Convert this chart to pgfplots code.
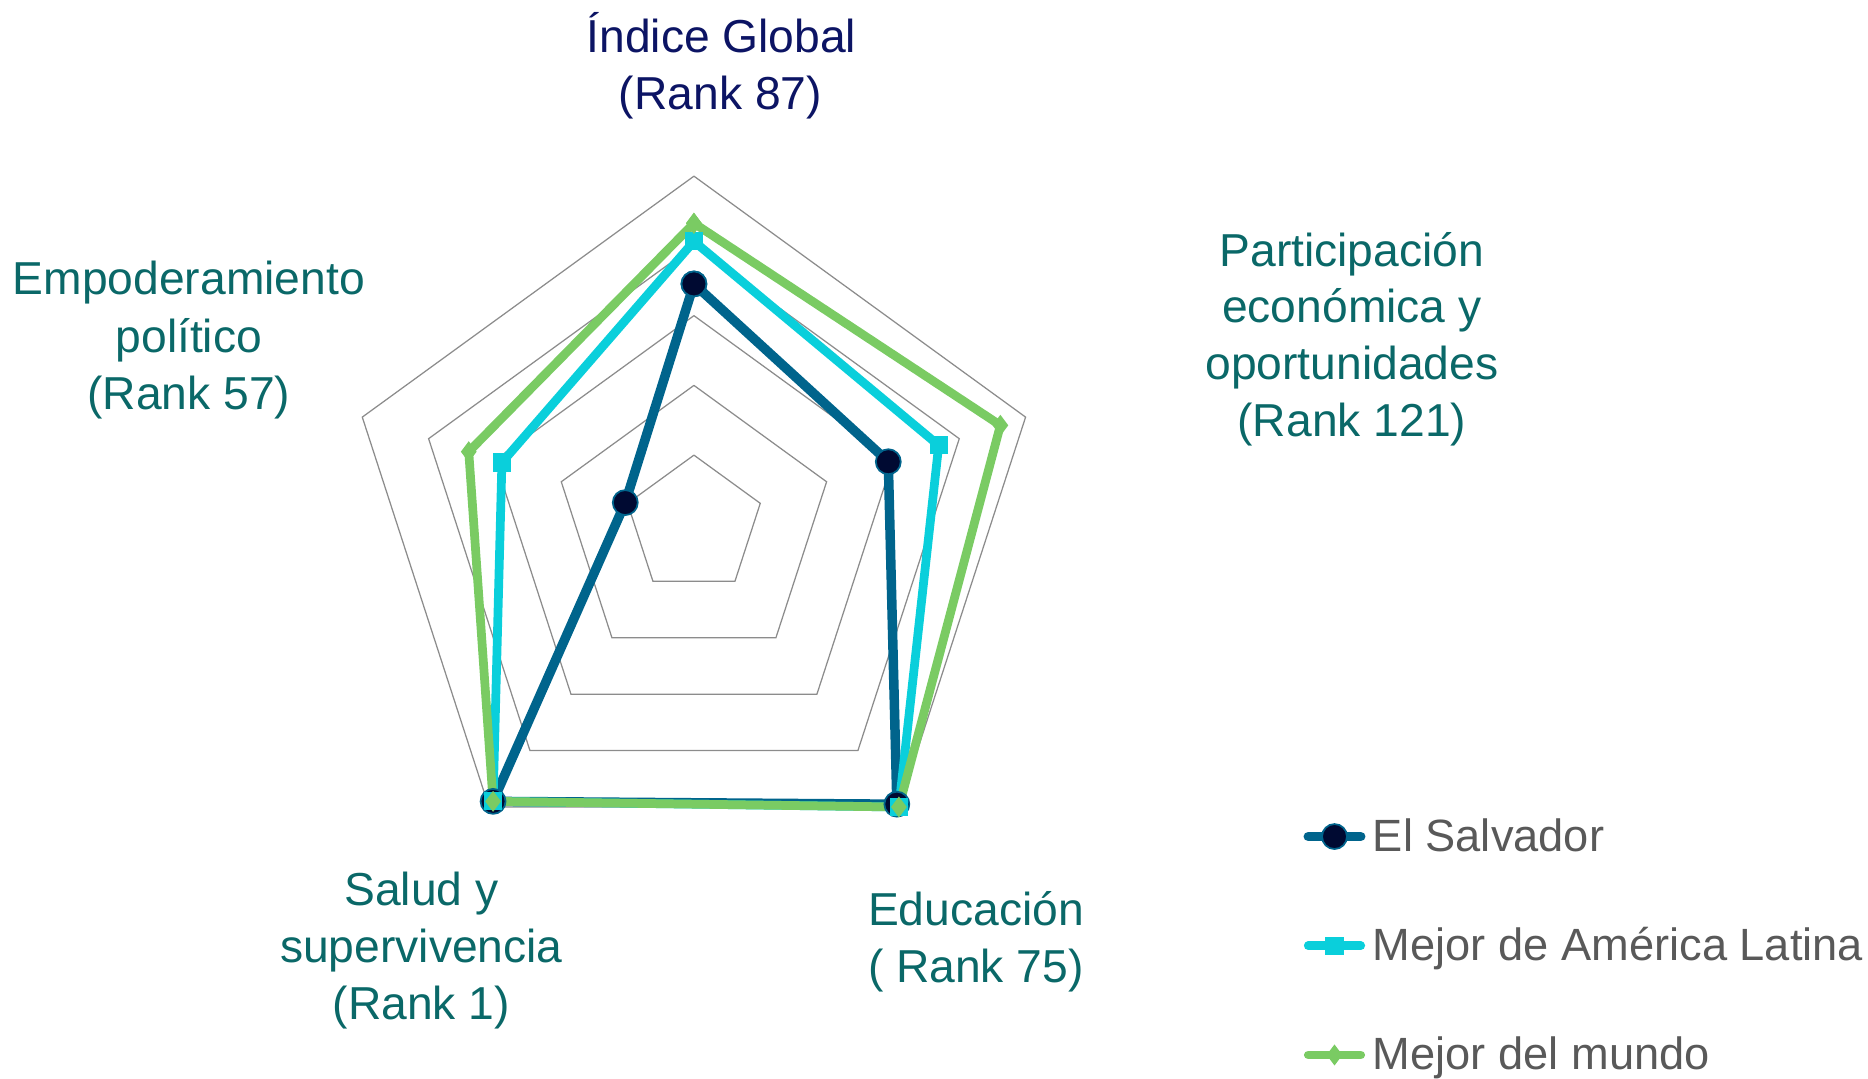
\documentclass[border=0pt]{standalone}
\usepackage{pgfplots}
\pgfplotsset{compat=1.18}
\usepgfplotslibrary{polar}
\usepackage{fontspec}
\setmainfont{Liberation Sans}
\definecolor{navy}{RGB}{12,20,100}
\definecolor{tealtxt}{RGB}{10,104,104}
\definecolor{leggray}{RGB}{89,89,89}
\definecolor{esline}{RGB}{0,100,140}
\definecolor{esmark}{RGB}{0,10,50}
\definecolor{cyanl}{RGB}{10,207,219}
\definecolor{greenl}{RGB}{122,203,99}
\definecolor{gridc}{RGB}{140,140,140}
\begin{document}
\begin{tikzpicture}
\path (0pt,0pt) rectangle (747.2pt,431.2pt);
\begin{polaraxis}[
  at={(277.8pt,221.08pt)}, anchor=origin,
  scale only axis, width=279.2pt, height=279.2pt,
  ymin=0, ymax=1, xmin=0, xmax=360,
  hide axis, clip=false,
  legend style={at={(axis cs:334.7,1.932)}, anchor=north west, draw=none, fill=none,
    font=\fontsize{18.1}{21}\selectfont\color{leggray}, row sep=25pt,
    inner sep=0pt, column sep=1pt},
  legend cell align=left,
  legend image code/.code={\draw[mark repeat=2,mark phase=2,line cap=round] plot coordinates {(0pt,0pt) (10.5pt,0pt) (21pt,0pt)};},
]
% grid pentagons
\addplot[gridc, line width=0.5pt, forget plot] coordinates {(90,0.2) (18,0.2) (306,0.2) (234,0.2) (162,0.2) (90,0.2)};
\addplot[gridc, line width=0.5pt, forget plot] coordinates {(90,0.4) (18,0.4) (306,0.4) (234,0.4) (162,0.4) (90,0.4)};
\addplot[gridc, line width=0.5pt, forget plot] coordinates {(90,0.6) (18,0.6) (306,0.6) (234,0.6) (162,0.6) (90,0.6)};
\addplot[gridc, line width=0.5pt, forget plot] coordinates {(90,0.8) (18,0.8) (306,0.8) (234,0.8) (162,0.8) (90,0.8)};
\addplot[gridc, line width=0.5pt, forget plot] coordinates {(90,1.0) (18,1.0) (306,1.0) (234,1.0) (162,1.0) (90,1.0)};
% El Salvador
\addplot[esline, line width=3.8pt, mark=*, mark size=5pt,
  mark options={fill=esmark, draw=esline, line width=0.7pt}]
  coordinates {(90,0.691) (18,0.586) (306,0.99) (234,0.98) (162,0.207) (90,0.691)};
\addlegendentry{El Salvador}
% Mejor de America Latina
\addplot[cyanl, line width=3.5pt, mark=square*, mark size=3.4pt,
  mark options={fill=cyanl, draw=cyanl, line width=0.5pt}]
  coordinates {(90,0.813) (18,0.738) (306,1.0) (234,0.98) (162,0.579) (90,0.813)};
\addlegendentry{Mejor de América Latina}
% Mejor del mundo
\addplot[greenl, line width=3.5pt, mark=diamond*, mark size=3.8pt,
  mark options={fill=greenl, draw=greenl, line width=0.5pt}]
  coordinates {(90,0.865) (18,0.924) (306,1.0) (234,0.98) (162,0.679) (90,0.865)};
\addlegendentry{Mejor del mundo}
\end{polaraxis}
\begin{scope}[x=0.4pt,y=0.4pt,every node/.style={anchor=base, inner sep=0pt, font=\fontsize{18.5}{22}\selectfont}]
\node[text=navy] at (722,1025) {Índice Global};
\node[text=navy] at (721,968) {(Rank 87)};
\node[text=tealtxt] at (1353,811.3) {Participación};
\node[text=tealtxt] at (1353,755) {económica y};
\node[text=tealtxt] at (1353,698) {oportunidades};
\node[text=tealtxt] at (1353,641.3) {(Rank 121)};
\node[text=tealtxt] at (189,783) {Empoderamiento};
\node[text=tealtxt] at (189,725) {político};
\node[text=tealtxt] at (189,668) {(Rank 57)};
\node[text=tealtxt] at (421.7,171.3) {Salud y};
\node[text=tealtxt] at (421.7,115) {supervivencia};
\node[text=tealtxt] at (421.7,58) {(Rank 1)};
\node[text=tealtxt] at (976.7,151.3) {Educación};
\node[text=tealtxt] at (976.7,94.7) {( Rank 75)};
\end{scope}
\end{tikzpicture}
\end{document}
